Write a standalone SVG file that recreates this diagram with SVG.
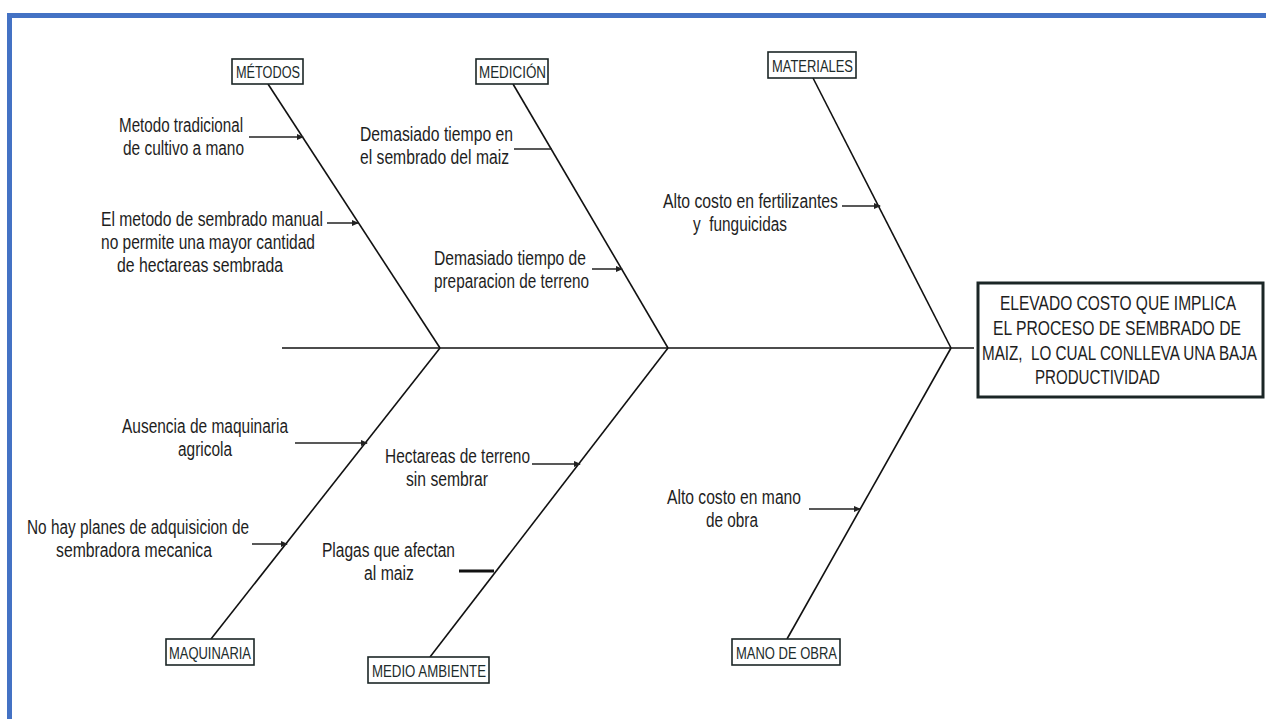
<svg xmlns="http://www.w3.org/2000/svg" width="1266" height="719" viewBox="0 0 1266 719">
<style>
.t{font-family:"Liberation Sans Narrow","Liberation Sans",Arial,sans-serif;font-size:19.5px;fill:#1e1e1e;}
.lb{font-family:"Liberation Sans Narrow","Liberation Sans",Arial,sans-serif;font-size:16px;fill:#1c2b2b;}
.box{fill:#fff;stroke:#1c2626;stroke-width:1.6;}
.bone{stroke:#111;stroke-width:1.6;fill:none;}
.arr{stroke:#222;stroke-width:1.5;fill:none;marker-end:url(#ah);}
</style>
<defs>
<marker id="ah" markerUnits="userSpaceOnUse" markerWidth="7" markerHeight="6" refX="6" refY="3" orient="auto">
<path d="M0,0 L7,3 L0,6 Z" fill="#222"/>
</marker>
</defs>
<rect width="1266" height="719" fill="#fff"/>
<rect x="9.5" y="15.5" width="1300" height="800" fill="none" stroke="#4472C4" stroke-width="5"/>

<g id="connectors">
<line class="bone" x1="282" y1="348" x2="974" y2="348" stroke-width="2"/>
<line class="bone" x1="268" y1="84" x2="440" y2="348"/>
<line class="bone" x1="513" y1="84" x2="668" y2="348"/>
<line class="bone" x1="813" y1="78" x2="951" y2="348"/>
<line class="bone" x1="211" y1="639" x2="440" y2="348"/>
<line class="bone" x1="430" y1="657" x2="668" y2="348"/>
<line class="bone" x1="787" y1="639" x2="951" y2="348"/>
<line class="arr" x1="249" y1="137" x2="303" y2="137"/>
<line class="arr" x1="327" y1="223" x2="358" y2="223"/>
<line x1="514" y1="149" x2="552" y2="149" stroke="#222" stroke-width="1.5"/>
<line class="arr" x1="592" y1="269" x2="622" y2="269"/>
<line class="arr" x1="842" y1="206" x2="880" y2="206"/>
<line class="arr" x1="295" y1="443" x2="367" y2="443"/>
<line class="arr" x1="252" y1="544" x2="287" y2="544"/>
<line class="arr" x1="532" y1="464" x2="580" y2="464"/>
<line x1="459" y1="571" x2="494" y2="571" stroke="#111" stroke-width="3"/>
<line class="arr" x1="809" y1="509" x2="860" y2="509"/>
</g>

<g id="effect">
<rect x="978" y="283" width="285" height="114" fill="#fff" stroke="#1b2626" stroke-width="3"/>
<text class="t" x="1000" y="310" textLength="236" lengthAdjust="spacingAndGlyphs">ELEVADO COSTO QUE IMPLICA</text>
<text class="t" x="993" y="335" textLength="248" lengthAdjust="spacingAndGlyphs">EL PROCESO DE SEMBRADO DE</text>
<text class="t" x="982" y="360" textLength="275" lengthAdjust="spacingAndGlyphs" xml:space="preserve">MAIZ,  LO CUAL CONLLEVA UNA BAJA</text>
<text class="t" x="1035" y="384" textLength="125" lengthAdjust="spacingAndGlyphs">PRODUCTIVIDAD</text>
</g>

<g id="metodos">
<rect class="box" x="232" y="59" width="71" height="25"/>
<text class="lb" x="236" y="77.5" textLength="64" lengthAdjust="spacingAndGlyphs">MÉTODOS</text>
</g>
<g id="medicion">
<rect class="box" x="476" y="59" width="72" height="25"/>
<text class="lb" x="479" y="77.5" textLength="67" lengthAdjust="spacingAndGlyphs">MEDICIÓN</text>
</g>
<g id="materiales">
<rect class="box" x="768" y="52" width="88" height="26"/>
<text class="lb" x="772" y="71.5" textLength="81" lengthAdjust="spacingAndGlyphs">MATERIALES</text>
</g>
<g id="maquinaria">
<rect class="box" x="166" y="639" width="88" height="26"/>
<text class="lb" x="169" y="658.5" textLength="82" lengthAdjust="spacingAndGlyphs">MAQUINARIA</text>
</g>
<g id="medio-ambiente">
<rect class="box" x="368" y="657" width="121" height="26"/>
<text class="lb" x="372" y="676.5" textLength="114" lengthAdjust="spacingAndGlyphs">MEDIO AMBIENTE</text>
</g>
<g id="mano-de-obra">
<rect class="box" x="732" y="639" width="108" height="26"/>
<text class="lb" x="736" y="658.5" textLength="101" lengthAdjust="spacingAndGlyphs">MANO DE OBRA</text>
</g>

<g id="cause-metodo-tradicional">
<text class="t" x="119" y="132" textLength="124" lengthAdjust="spacingAndGlyphs">Metodo tradicional</text>
<text class="t" x="123" y="155" textLength="121" lengthAdjust="spacingAndGlyphs">de cultivo a mano</text>
</g>
<g id="cause-sembrado-manual">
<text class="t" x="101" y="226" textLength="222" lengthAdjust="spacingAndGlyphs">El metodo de sembrado manual</text>
<text class="t" x="101" y="249" textLength="214" lengthAdjust="spacingAndGlyphs">no permite una mayor cantidad</text>
<text class="t" x="117" y="272" textLength="166" lengthAdjust="spacingAndGlyphs">de hectareas sembrada</text>
</g>
<g id="cause-tiempo-sembrado">
<text class="t" x="360" y="141" textLength="153" lengthAdjust="spacingAndGlyphs">Demasiado tiempo en</text>
<text class="t" x="360" y="164" textLength="149" lengthAdjust="spacingAndGlyphs">el sembrado del maiz</text>
</g>
<g id="cause-tiempo-preparacion">
<text class="t" x="434" y="265" textLength="152" lengthAdjust="spacingAndGlyphs">Demasiado tiempo de</text>
<text class="t" x="434" y="288" textLength="155" lengthAdjust="spacingAndGlyphs">preparacion de terreno</text>
</g>
<g id="cause-fertilizantes">
<text class="t" x="663" y="208" textLength="175" lengthAdjust="spacingAndGlyphs">Alto costo en fertilizantes</text>
<text class="t" x="693" y="231" textLength="94" lengthAdjust="spacingAndGlyphs" xml:space="preserve">y  funguicidas</text>
</g>
<g id="cause-maquinaria">
<text class="t" x="122" y="433" textLength="166" lengthAdjust="spacingAndGlyphs">Ausencia de maquinaria</text>
<text class="t" x="178" y="456" textLength="54" lengthAdjust="spacingAndGlyphs">agricola</text>
</g>
<g id="cause-sembradora">
<text class="t" x="27" y="534" textLength="222" lengthAdjust="spacingAndGlyphs">No hay planes de adquisicion de</text>
<text class="t" x="56" y="557" textLength="156" lengthAdjust="spacingAndGlyphs">sembradora mecanica</text>
</g>
<g id="cause-hectareas">
<text class="t" x="385" y="463" textLength="145" lengthAdjust="spacingAndGlyphs">Hectareas de terreno</text>
<text class="t" x="406" y="486" textLength="82" lengthAdjust="spacingAndGlyphs">sin sembrar</text>
</g>
<g id="cause-plagas">
<text class="t" x="322" y="557" textLength="133" lengthAdjust="spacingAndGlyphs">Plagas que afectan</text>
<text class="t" x="364" y="580" textLength="50" lengthAdjust="spacingAndGlyphs">al maiz</text>
</g>
<g id="cause-mano-obra">
<text class="t" x="667" y="504" textLength="134" lengthAdjust="spacingAndGlyphs">Alto costo en mano</text>
<text class="t" x="706" y="527" textLength="52" lengthAdjust="spacingAndGlyphs">de obra</text>
</g>
</svg>
